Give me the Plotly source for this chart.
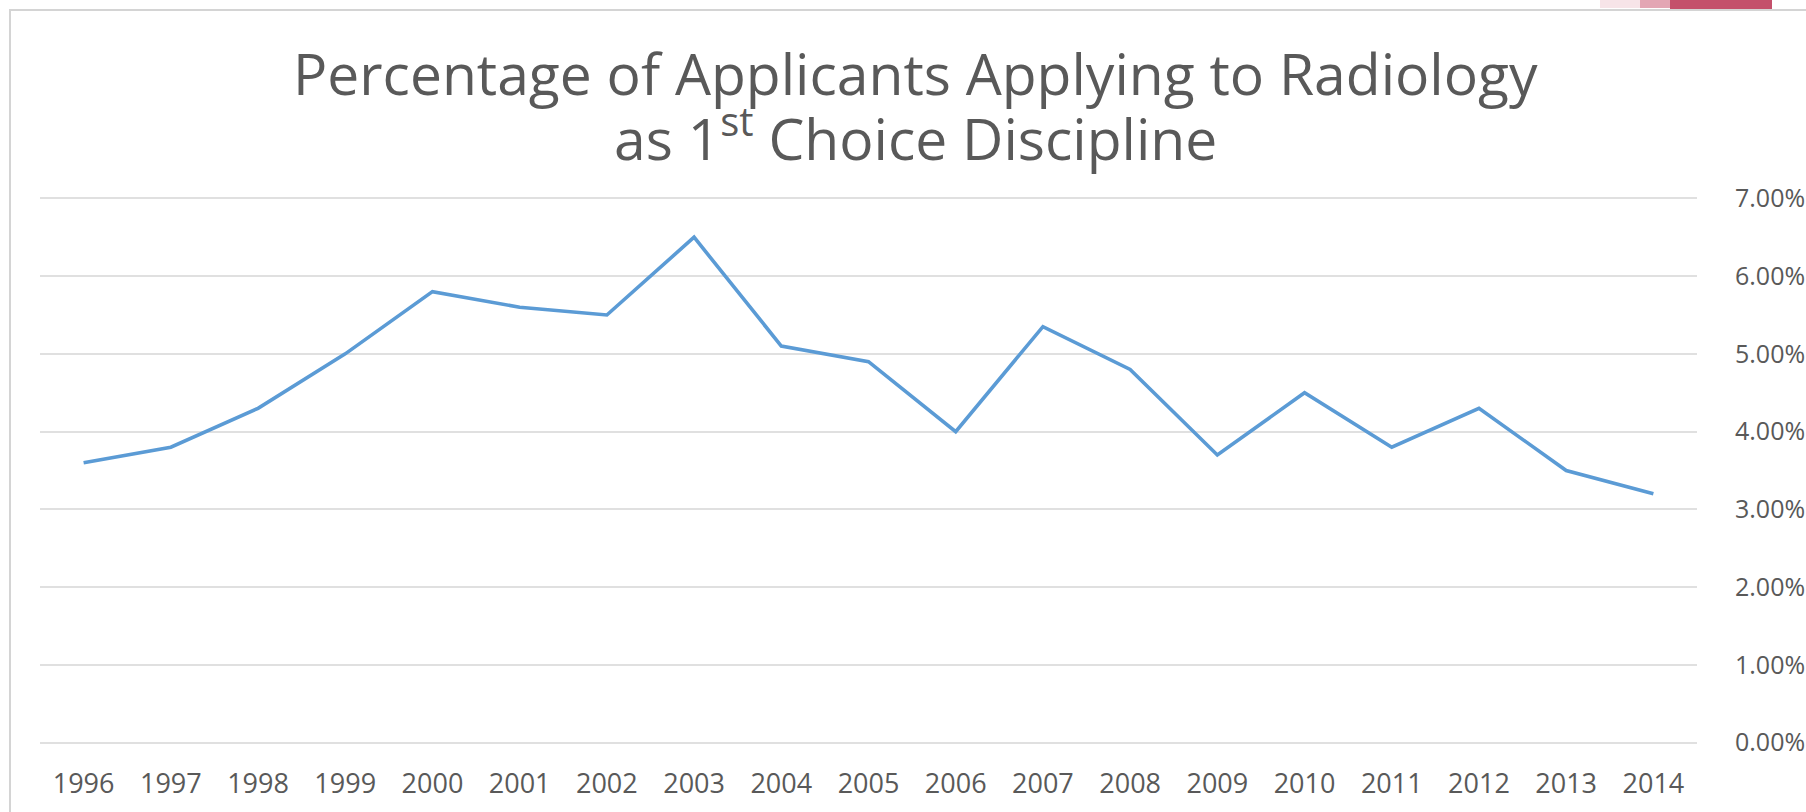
import plotly.graph_objects as go

years = ["1996", "1997", "1998", "1999", "2000", "2001", "2002", "2003", "2004", "2005",
         "2006", "2007", "2008", "2009", "2010", "2011", "2012", "2013", "2014"]
pct = [3.6, 3.8, 4.3, 5.0, 5.8, 5.6, 5.5, 6.5, 5.1, 4.9,
       4.0, 5.35, 4.8, 3.7, 4.5, 3.8, 4.3, 3.5, 3.2]
pct_frac = [v / 100 for v in pct]
y_ticks = [0, 0.01, 0.02, 0.03, 0.04, 0.05, 0.06, 0.07]
y_tick_labels = ["0.00%", "1.00%", "2.00%", "3.00%", "4.00%", "5.00%", "6.00%", "7.00%"]
title_line1 = "Percentage of Applicants Applying to Radiology"
title_line2 = "as 1<sup><span style='font-size:40px'>st</span></sup> Choice Discipline"

W, H = 1806, 812
L, R, T, B = 40, 109, 196, 67
pw, ph = W - L - R, H - T - B

def px_x(p):
    return (p - L) / pw

def px_y(p):
    return (H - B - p) / ph

fig = go.Figure()
fig.add_trace(go.Scatter(
    x=years, y=pct_frac, mode="lines",
    line=dict(color="#5B9BD5", width=3.6),
    hoverinfo="skip", showlegend=False,
))

gray = "#595959"
fig.update_layout(
    width=W, height=H,
    margin=dict(l=L, r=R, t=T, b=B),
    paper_bgcolor="white", plot_bgcolor="white",
    font=dict(family="Open Sans", color=gray),
    xaxis=dict(
        type="category", range=[-0.5, 18.5], automargin=False,
        showgrid=False, zeroline=False, showline=False,
        ticks="", tickfont=dict(size=27, color=gray),
        ticklabelstandoff=20,
    ),
    yaxis=dict(
        side="right", range=[-0.0003, 0.0703], automargin=False,
        tickvals=y_ticks, ticktext=y_tick_labels,
        showgrid=True, gridcolor="#E0E0E0", gridwidth=2,
        zeroline=False, showline=False, ticks="",
        tickfont=dict(size=25, color=gray),
        ticklabelstandoff=37,
    ),
    annotations=[
        dict(text=title_line1, xref="paper", yref="paper",
             x=px_x(916), y=px_y(73), xanchor="center", yanchor="middle",
             showarrow=False, font=dict(size=57, color=gray, family="Open Sans")),
        dict(text=title_line2, xref="paper", yref="paper",
             x=px_x(916), y=px_y(135), xanchor="center", yanchor="middle",
             showarrow=False, font=dict(size=57, color=gray, family="Open Sans")),
    ],
    shapes=[
        dict(type="rect", xref="paper", yref="paper",
             x0=px_x(10), x1=px_x(1815), y0=px_y(820), y1=px_y(10),
             line=dict(color="#D4D4D4", width=2), fillcolor="rgba(0,0,0,0)", layer="below"),
        dict(type="rect", xref="paper", yref="paper",
             x0=px_x(1600), x1=px_x(1640), y0=px_y(8), y1=px_y(0),
             line=dict(width=0), fillcolor="#F7E4E8", layer="above"),
        dict(type="rect", xref="paper", yref="paper",
             x0=px_x(1640), x1=px_x(1672), y0=px_y(8), y1=px_y(0),
             line=dict(width=0), fillcolor="#E3A6B4", layer="above"),
        dict(type="rect", xref="paper", yref="paper",
             x0=px_x(1670), x1=px_x(1772), y0=px_y(9), y1=px_y(0),
             line=dict(width=0), fillcolor="#C4506B", layer="above"),
    ],
)

fig.write_html("out.html", config={"displayModeBar": False},
               post_script="document.body.style.margin='0';document.body.style.overflow='hidden';")
